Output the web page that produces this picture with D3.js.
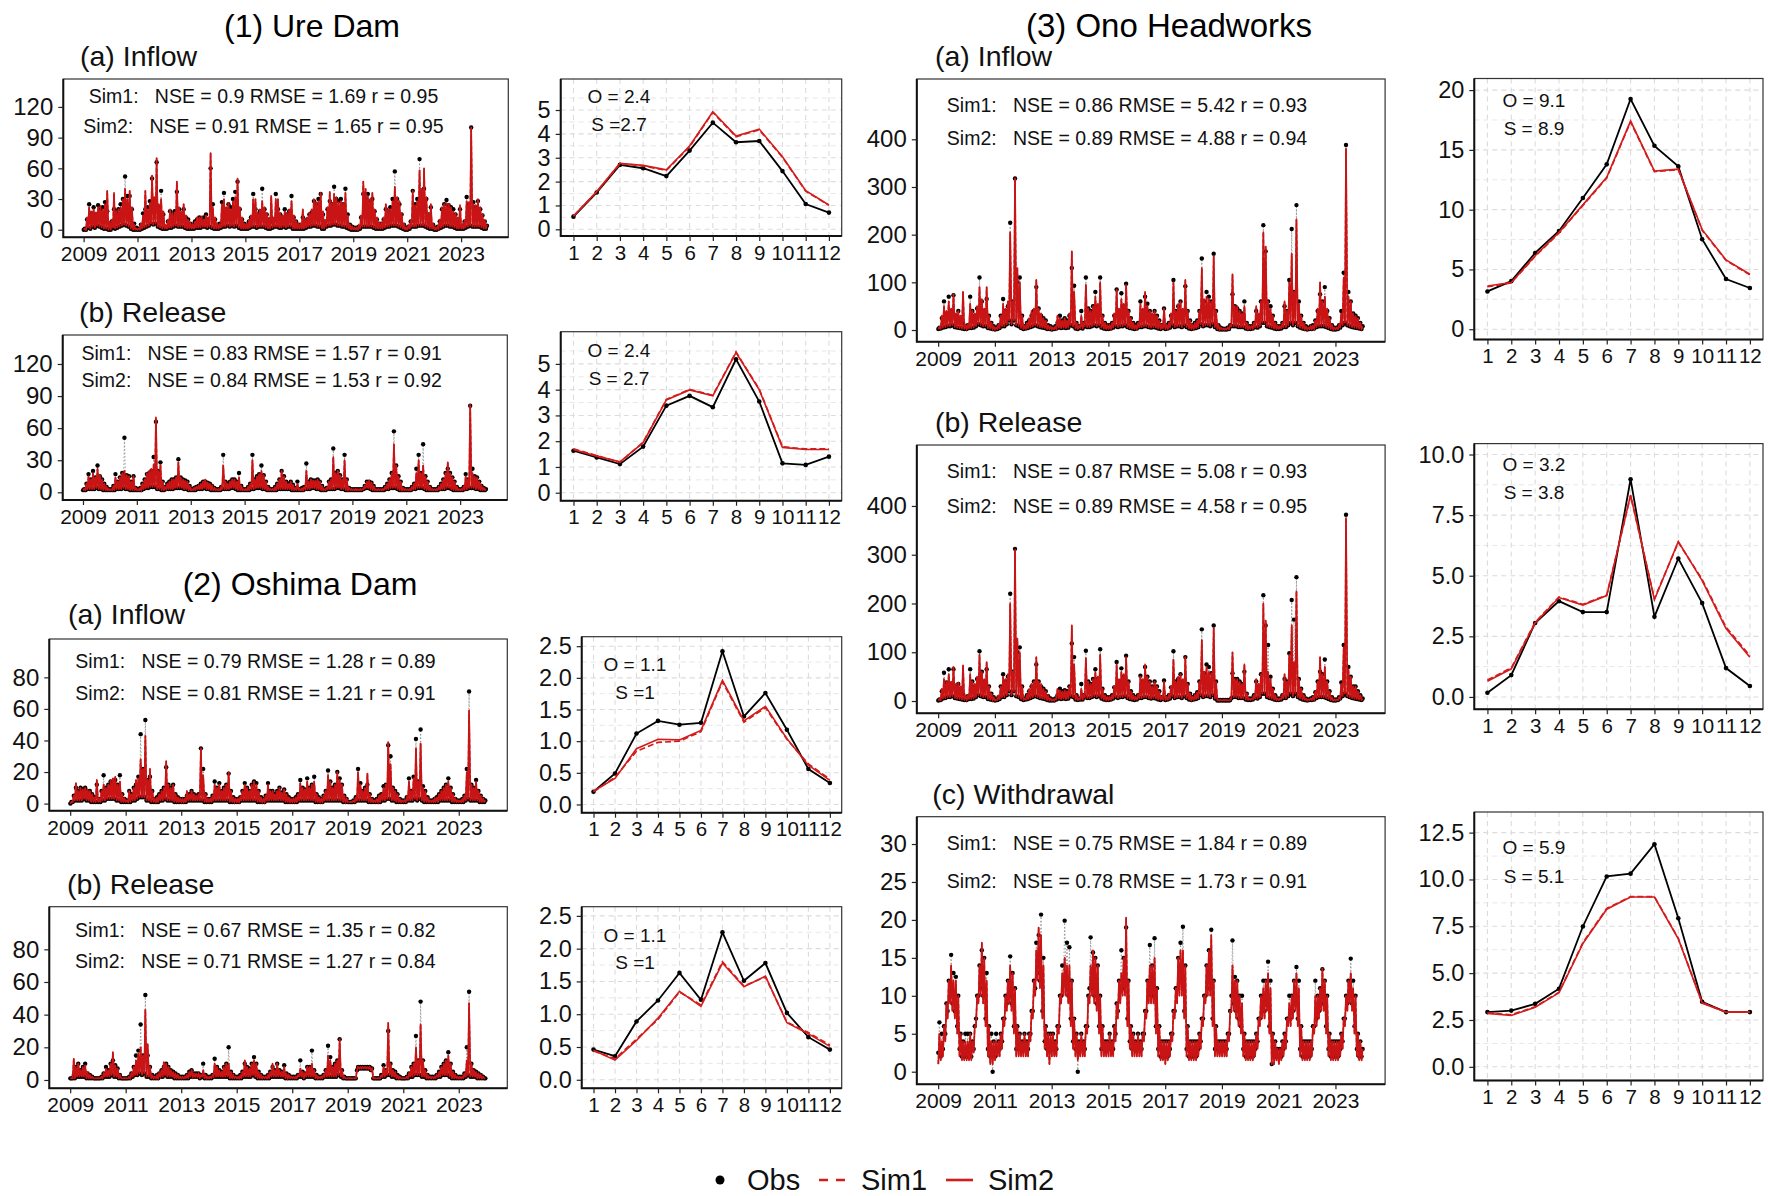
<!DOCTYPE html>
<html>
<head>
<meta charset="utf-8">
<script src="https://cdn.jsdelivr.net/npm/d3@7"></script>
<style>
  body { margin: 0; background: #fff; }
  svg { display: block; font-family: "Liberation Sans", Arial, sans-serif; }
</style>
</head>
<body>
<svg id="chart" width="1768" height="1196"></svg>
<script>
// ---- categories / ticks ----
const months = [1, 2, 3, 4, 5, 6, 7, 8, 9, 10, 11, 12];
const yearTicks = [2009, 2011, 2013, 2015, 2017, 2019, 2021, 2023];

// ---- daily series, summarised month by month (Jan 2009 .. Dec 2023) ----
// each month: low of the month, peak of the month
const ureInLow = [
  0,0,2,1,3,2,4,3,2,1,1,0,  0,2,1,2,3,4,5,4,3,1,0,0,  0,0,1,2,3,4,6,5,6,3,2,1,
  1,1,2,2,3,4,3,3,3,2,1,1,  1,1,2,2,2,3,3,2,3,2,1,1,  1,2,3,3,4,3,4,3,4,2,1,1,
  1,1,2,3,3,2,3,3,3,2,1,1,  2,3,3,2,2,3,2,3,3,1,1,1,  1,1,1,2,3,3,4,4,3,3,1,1,
  3,4,4,5,5,4,4,3,3,2,1,0,  0,0,0,1,3,3,3,3,3,2,1,1,  1,1,2,3,3,4,4,4,3,2,1,0,
  0,1,3,3,3,4,4,4,3,2,1,1,  0,0,1,2,3,4,4,3,3,2,1,1,  1,1,2,3,4,3,3,3,3,2,1,1];
const ureInObs = [
  1,10,25,16,22,15,24,20,22,27,18,6,   8,20,17,20,25,30,52,33,33,20,6,2,
  1,5,16,20,22,28,50,30,66,22,38,15,   3,8,18,15,18,37,20,15,20,12,10,6,
  5,8,10,12,10,12,15,10,60,25,10,5,    6,27,36,20,25,22,30,37,47,20,10,6,
  5,8,12,35,20,15,18,40,20,15,10,8,    10,35,20,15,12,20,15,18,33,12,8,5,
  5,12,8,10,15,17,28,25,30,35,15,8,    20,28,25,42,30,28,30,25,40,15,5,3,
  2,2,3,12,35,30,35,28,30,18,10,6,     6,10,20,18,22,30,57,30,25,15,5,2,
  3,8,38,25,30,69,35,40,30,15,22,5,    2,3,8,20,25,29,24,22,20,15,10,20,
  4,8,32,25,100,27,22,28,20,14,8,4];
const ureInSim2 = [
  1,12,22,18,20,17,22,23,20,25,38,8,   10,36,18,20,22,30,40,30,38,22,5,1,
  1,6,14,38,20,26,53,32,70,25,30,18,   4,10,20,16,17,47,22,18,25,14,10,7,
  5,8,12,12,13,10,14,12,75,22,12,6,    5,25,30,22,26,20,28,32,50,22,12,6,
  6,9,14,30,30,16,20,28,22,16,11,33,   12,30,30,16,14,18,16,20,28,14,9,6,
  6,20,10,12,16,20,30,27,28,36,18,9,   22,37,26,35,32,27,28,26,36,14,5,3,
  2,2,4,14,47,40,33,30,36,20,12,7,     7,12,25,20,20,28,42,32,28,16,6,2,
  4,9,38,24,28,58,40,60,32,16,25,6,    2,3,10,22,25,26,25,22,18,16,12,24,
  5,9,28,27,100,25,24,30,22,15,9,5];
// Sim1 lies on top of Sim2 at this scale
const ureInSim1 = ureInSim2;

const ureRelLow = [
  2,2,3,3,3,3,4,3,3,2,2,2,  2,2,2,3,3,3,4,3,3,2,2,2,  2,2,2,3,4,4,5,5,5,3,3,2,
  2,3,3,3,3,4,4,4,4,3,3,2,  2,2,2,3,3,3,4,3,3,2,2,2,  2,2,3,3,3,3,4,4,3,2,2,2,
  2,2,2,3,3,4,4,4,3,3,2,2,  2,2,2,3,3,3,3,3,3,2,2,2,  2,2,2,3,3,3,4,4,3,3,2,2,
  2,3,3,3,3,4,4,3,3,2,2,2,  2,2,2,2,2,3,4,4,3,2,2,2,  2,2,2,3,3,4,4,4,3,2,2,2,
  2,2,2,3,3,4,4,4,3,2,2,2,  2,2,2,3,3,3,4,4,3,2,2,2,  2,2,3,3,4,4,4,3,3,2,2,2];
const ureRelObs = [
  3,8,17,12,20,14,25,15,12,8,5,3,      3,6,17,10,14,18,51,16,15,10,15,4,
  3,4,8,12,17,18,20,33,66,20,28,10,    5,8,10,12,12,14,31,14,12,11,10,6,
  3,4,5,6,8,10,10,9,8,6,4,3,           3,5,35,10,8,10,12,12,10,18,6,3,
  3,5,8,35,12,15,17,25,16,10,5,3,      3,5,8,12,20,15,10,8,10,7,4,10,
  3,4,5,27,10,12,11,11,12,10,6,3,      4,10,12,41,18,20,16,12,35,12,4,3,
  3,3,3,3,3,6,10,10,9,6,3,3,           3,3,5,8,12,18,57,25,15,10,4,3,
  3,3,5,8,22,35,18,45,15,10,5,3,       3,3,5,8,12,18,22,18,14,10,5,3,
  3,5,17,12,81,22,15,14,10,6,4,3];
const ureRelSim2 = [
  3,8,15,12,18,14,22,16,12,8,5,3,      3,6,14,10,14,18,20,16,15,10,15,4,
  3,4,8,12,18,20,22,26,70,20,26,10,    5,8,10,12,12,14,28,14,12,11,10,6,
  3,4,5,6,8,10,12,9,8,6,4,3,           3,5,25,10,8,10,12,12,10,14,6,3,
  3,5,8,30,12,15,17,20,16,10,5,3,      3,5,8,12,20,15,10,8,10,7,4,8,
  3,4,5,20,10,12,11,11,12,10,6,3,      4,10,12,33,18,20,16,12,30,12,4,3,
  3,3,3,3,3,6,10,11,9,6,3,3,           3,3,5,8,12,18,45,25,15,10,4,3,
  3,3,5,8,18,30,18,25,15,10,5,3,       3,3,5,8,12,18,28,18,14,10,5,3,
  3,5,15,12,82,18,15,14,10,6,4,3];
const ureRelSim1 = ureRelSim2;

const oshInLow = [
  0,1,2,2,2,2,3,2,2,1,1,1,  1,1,2,2,3,3,3,3,2,2,1,1,  1,1,1,2,2,3,4,4,4,2,2,1,
  1,1,1,2,2,3,2,2,2,1,1,1,  1,1,1,2,2,2,2,2,2,2,1,1,  1,1,2,2,2,2,2,2,2,1,1,1,
  1,1,2,2,2,2,2,2,2,1,1,1,  1,2,2,2,2,2,2,2,2,1,1,1,  1,1,1,2,2,2,2,2,2,2,1,1,
  1,1,2,2,2,2,2,2,2,2,1,1,  1,1,1,1,2,2,2,2,2,1,1,1,  1,1,1,2,2,3,3,2,2,1,1,1,
  1,1,2,2,2,3,2,3,2,1,1,1,  1,1,1,1,2,2,2,2,2,1,1,1,  1,1,1,2,3,2,2,2,2,1,1,1];
const oshInObs = [
  1,5,10,8,10,9,10,8,8,6,4,12,         3,8,18,10,12,14,12,15,12,18,6,3,
  2,8,6,10,12,17,44,22,53,15,17,8,     3,4,6,8,10,23,12,10,12,6,4,3,
  3,3,5,6,8,6,5,6,35,22,6,3,           3,5,14,10,13,8,10,12,19,8,4,3,
  3,4,8,13,10,8,12,14,13,8,4,3,        5,13,8,8,6,8,10,7,9,6,4,3,
  3,4,6,15,10,9,16,10,12,17,6,4,       3,5,8,21,14,10,12,20,16,12,5,3,
  1,1,2,4,22,13,8,10,12,6,3,2,         3,5,6,11,12,37,30,10,8,6,3,2,
  2,4,16,8,17,41,14,47,11,8,4,2,       2,3,4,6,8,10,12,16,10,6,3,2,
  2,3,5,22,71,12,10,15,8,5,3,2];
const oshInSim2 = [
  1,5,13,8,10,9,10,9,8,6,4,15,         3,8,12,10,12,15,16,17,12,14,6,3,
  2,8,6,10,15,16,28,22,43,15,22,8,     3,4,6,8,10,27,12,10,12,6,4,3,
  3,3,8,6,8,6,5,6,35,18,6,3,           3,5,12,10,12,8,10,12,20,8,4,3,
  3,4,8,12,10,8,12,14,12,8,4,3,        5,12,8,8,6,8,10,7,9,6,4,3,
  3,4,6,13,10,9,14,10,12,14,6,4,       3,5,8,18,14,10,12,20,15,12,5,3,
  1,1,2,4,20,12,8,10,19,6,3,2,         3,5,6,10,12,39,25,10,8,6,3,2,
  2,4,14,8,16,35,14,38,10,8,4,2,       2,3,4,6,8,10,12,14,10,6,3,2,
  2,3,5,20,59,12,10,14,8,5,3,2];
const oshInSim1 = oshInSim2;

const oshRelLow = [
  1,1,1,2,2,2,2,1,1,1,1,1,  1,1,1,2,2,2,3,2,2,1,1,1,  1,1,1,2,3,3,4,3,4,2,2,1,
  1,1,1,2,2,3,2,2,2,1,1,1,  1,1,1,1,2,2,2,2,1,2,1,1,  1,1,2,2,2,2,2,2,2,1,1,1,
  1,1,1,2,2,2,2,3,2,1,1,1,  1,1,1,2,2,2,2,2,2,1,1,1,  1,1,1,2,2,1,2,2,2,2,1,1,
  1,1,2,2,2,2,2,2,3,2,1,1,  1,1,1,1,6,7,7,7,7,7,6,1,  1,1,1,2,2,3,3,2,2,1,1,1,
  1,1,1,2,2,3,3,3,2,2,1,1,  1,1,1,2,2,3,3,3,2,1,1,1,  1,1,1,2,3,2,2,2,1,1,1,1];
const oshRelObs = [
  1,3,8,10,6,8,10,4,3,2,1,1,           1,2,4,8,6,10,12,9,7,3,1,1,
  1,2,4,8,15,18,34,15,52,15,8,3,       2,3,4,6,8,10,8,6,5,4,3,2,
  2,2,3,5,6,4,4,4,3,10,3,2,            2,3,13,8,6,5,8,10,20,5,3,2,
  2,3,5,10,8,7,10,14,10,5,3,2,         2,3,5,8,6,10,6,5,9,4,3,2,
  2,2,3,12,5,4,8,8,18,6,3,2,           2,3,6,21,14,8,10,12,25,6,2,1,
  1,1,1,1,8,8,8,8,8,8,7,1,             1,1,3,9,6,30,10,6,5,3,2,1,
  1,2,4,8,10,27,12,48,12,6,3,2,        2,2,3,5,8,10,12,17,10,5,3,2,
  2,2,4,20,54,10,6,5,4,3,2,1];
const oshRelSim2 = [
  1,13,8,10,6,8,9,5,3,2,1,1,           1,2,4,7,6,10,17,9,7,3,1,1,
  1,2,4,8,12,16,20,15,43,22,8,3,       2,3,4,6,11,10,8,6,5,4,3,2,
  2,2,3,5,6,4,4,4,3,6,3,2,             2,3,10,8,6,5,8,10,10,5,3,2,
  2,3,5,12,8,7,10,12,10,5,3,2,         2,3,5,10,6,10,6,5,8,4,3,2,
  2,2,3,7,5,4,8,8,10,6,3,2,            2,3,6,15,12,8,10,12,25,6,2,1,
  1,1,1,1,8,8,8,8,8,8,7,1,             1,1,3,8,6,35,10,6,5,3,2,1,
  1,2,4,8,10,20,12,34,12,6,3,2,        2,2,3,5,8,10,12,15,10,5,3,2,
  2,2,4,12,47,10,6,5,4,3,2,1];
const oshRelSim1 = oshRelSim2;

const onoInLow = [
  2,3,5,6,8,8,10,6,5,4,3,2,    2,4,4,5,8,12,10,8,8,4,3,2,   1,2,4,8,8,12,20,12,20,10,8,4,
  2,3,4,6,8,10,8,6,5,4,2,2,    1,2,3,5,4,5,4,5,10,8,3,2,    4,3,8,6,6,8,10,8,10,5,3,2,
  2,3,5,8,6,8,8,10,6,4,3,2,    3,6,6,8,8,6,5,6,5,3,2,4,     2,3,5,10,6,8,8,6,10,6,3,2,
  3,4,6,12,8,10,10,8,12,6,2,1, 1,1,1,2,8,8,8,6,6,6,3,2,     2,3,6,5,8,15,15,8,6,5,3,2,
  2,3,6,6,10,15,10,15,8,5,3,2, 1,2,2,3,6,8,8,8,6,4,2,1,     1,2,5,10,15,10,8,6,5,4,3,2];
const onoInObs = [
  5,25,60,35,70,40,73,30,40,25,15,8,       10,70,40,30,45,110,60,40,65,30,15,8,
  5,10,30,65,40,50,225,60,318,100,110,30,  8,15,20,30,40,90,45,30,25,20,10,8,
  5,8,15,30,20,25,20,30,130,93,15,8,       40,15,110,45,40,50,80,50,110,30,15,10,
  10,15,30,85,40,77,50,97,40,25,15,10,     15,60,40,70,55,40,30,40,30,20,10,45,
  10,15,30,105,40,50,60,40,92,40,20,10,    15,20,40,150,60,80,70,60,160,40,10,5,
  3,3,5,10,75,50,45,40,35,60,15,8,         8,15,40,30,60,220,165,60,50,30,15,8,
  8,15,50,40,105,212,80,262,60,30,15,8,    5,8,10,20,40,75,60,90,40,25,10,5,
  5,10,40,120,388,80,60,35,30,25,15,8];
const onoInSim2 = [
  6,30,50,40,60,45,75,35,40,30,80,10,      12,55,40,35,50,90,65,45,90,30,15,8,
  5,12,30,55,45,60,205,60,318,130,100,30,  8,15,25,40,45,105,45,35,25,20,10,8,
  5,8,30,25,20,25,20,35,165,80,15,8,       30,15,95,45,40,50,70,55,100,30,15,10,
  10,15,35,85,45,65,55,95,40,25,15,10,     15,55,45,80,50,40,35,40,30,20,10,45,
  10,15,35,100,40,55,60,45,105,40,20,10,   15,20,40,130,65,70,65,60,155,40,10,5,
  3,3,5,10,117,50,50,40,35,50,15,8,        8,15,50,35,60,205,175,60,45,30,15,8,
  8,15,60,40,100,160,80,232,55,30,15,8,    5,8,10,20,45,100,60,70,45,25,10,5,
  5,10,35,110,380,70,60,35,30,25,15,8];
const onoInSim1 = onoInSim2;

const onoRelLow = [
  1,2,5,6,8,8,10,6,5,4,3,2,    2,4,4,5,8,12,10,8,8,4,3,2,   1,2,4,8,8,12,20,12,20,10,8,4,
  2,3,4,6,8,10,8,6,5,4,2,1,    1,1,3,5,4,5,4,5,10,8,3,2,    3,3,8,6,6,8,10,8,10,5,3,2,
  2,3,5,8,6,8,8,10,6,4,3,2,    3,6,6,8,8,6,5,6,5,3,2,4,     2,3,5,10,6,8,8,6,10,6,3,2,
  3,4,6,12,8,10,10,8,12,5,1,1, 1,1,1,1,6,8,8,6,6,6,3,2,     2,3,6,5,8,15,15,8,6,5,3,2,
  2,3,6,6,10,15,10,15,8,5,3,2, 1,2,2,3,6,8,8,8,6,4,2,1,     1,2,5,10,15,10,8,6,5,4,3,2];
const onoRelObs = [
  3,20,58,38,65,35,65,30,35,25,15,8,       10,65,40,30,45,102,60,40,65,30,15,8,
  3,8,30,55,40,50,220,60,312,100,110,30,   5,12,20,30,40,75,40,30,25,20,10,5,
  3,5,12,25,20,22,20,30,118,90,12,5,       35,12,103,40,35,45,65,45,106,25,12,8,
  8,12,28,80,40,67,50,93,40,20,12,8,       12,52,40,70,50,40,30,40,30,20,8,42,
  8,12,28,102,40,45,55,40,90,35,15,8,      12,18,40,147,57,75,70,57,155,40,2,2,
  2,2,2,2,57,45,45,40,35,60,15,5,          5,12,40,30,55,217,155,115,50,25,12,5,
  5,12,45,40,98,207,167,254,45,25,12,5,    3,5,8,18,40,60,55,85,40,20,8,3,
  3,8,38,115,382,70,50,30,30,20,12,5];
const onoRelSim2 = [
  4,25,45,40,55,40,70,35,38,30,73,10,      12,55,40,35,50,95,60,45,80,30,15,8,
  3,10,30,50,45,55,200,60,310,128,100,30,  5,12,25,35,40,90,40,35,25,20,10,5,
  3,5,25,22,20,22,20,30,155,75,12,5,       25,12,88,40,35,45,60,50,95,25,12,8,
  8,12,30,75,45,60,55,90,40,20,12,8,       12,50,45,75,50,40,30,40,30,20,8,40,
  8,12,30,85,40,50,55,45,90,35,15,8,       12,18,40,125,60,70,60,57,150,40,2,2,
  2,2,2,2,100,45,45,40,35,75,15,5,         5,12,45,35,55,200,165,60,45,25,12,5,
  5,12,55,40,95,155,80,225,45,25,12,5,     3,5,8,20,40,90,55,70,40,20,8,3,
  3,8,35,110,375,65,50,30,30,20,12,5];
const onoRelSim1 = onoRelSim2;

const onoWdObsLow = [
  2.5,2,3,5,8,10,9,8,6,3,2,2,   2,2,2,3,7,10,11,10,7,3,2,0,   2,3,3,4,7,9,10,9,6,3,3,3,
  3,3,3,5,8,11,13,12,8,4,3,3,   3,3,3,6,10,12,12,10,7,4,3,0,  3,3,3,6,11,11,10,9,6,3,3,3,
  3,3,3,5,8,11,11,12,7,4,3,3,   3,3,3,5,8,11,10,10,6,3,2,2,   2,2,3,5,8,11,12,12,8,3,2,2,
  2,2,3,4,7,10,11,12,7,3,3,3,   3,3,3,5,10,9,8,7,6,3,2,2,     2,2,3,4,7,8,8,9,6,1,2,2,
  2,2,3,4,7,7,8,9,7,3,2,2,      2,2,3,6,7,8,9,9,6,3,2,2,      2,2,3,4,7,9,10,9,6,3,2,2];
const onoWdObs = [
  6.5,5,6,9,12,15.4,13,12.5,10,5,4,5,  5,5,4,6,10,14,16,15,13,6,5,4,
  5,4,5,7,10,12,15.2,13,11,6,5,4,      5,4,5,8,12,17,18,20.7,15,6,5,5,
  5,4,6,10,14,19.9,17,16.4,12,7,5,4,   5,4,6,10,17.7,15.7,15,14,10,6,4,4,
  5,4,6,9,12,16,15,19,12,6,5,4,        5,4,5,8,12,16.7,14,17.6,11,6,4,4,
  4,4,5,8,11,15,17,19.1,14,6,4,4,      4,4,5,7,10,14,16,18.7,12,6,4,4,
  4,4,5,8,17.3,12.5,12,10,10,5,4,4,    4,4,5,7,10,12,12,14.5,12,5,4,3,
  3,4,5,7,10,10,12,13.8,12,6,4,4,      4,4,6,12,10,11,13.5,12,10,5,4,4,
  4,4,5,7,10,12,14.9,12,10,5,4,3];
const onoWdSimLow = [
  1,1.5,2,4,7,9,8,7,5,2,1.5,1.5,   1.5,1.5,1.5,2.5,6,9,10,9,6,2,1,1,  1.5,2,2,3,6,8,9,8,5,2,2,2,
  2,2,2,4,7,10,12,11,7,3,2,1,      2,2,2,5,9,10,10,9,6,3,2,1.5,       2,2,2,5,9,10,9,8,5,2,2,2,
  2,2,2,4,7,9,10,10,6,3,2,2,       2,2,2,4,7,9,9,9,5,2,1.5,1.5,       1,1.5,2,4,7,9,10,10,7,2,1.5,1.5,
  1.5,1.5,2,3,6,9,10,10,6,2,2,2,   2,2,2,4,8,8,7,6,5,2,1.5,1.5,       1.5,1.5,2,3,6,7,7,8,5,1,1,1.5,
  1,1.5,2,3,6,6,7,8,6,2,1.5,1.5,   1.5,1.5,2,5,6,7,8,8,5,2,1.5,1.5,   1.5,1.5,2,3,6,8,9,8,5,2,1.5,1.5];
const onoWdSim2 = [
  5,4,6,9,12,14,12,12,10,5,4,4,        4,5,4,6,10,14,17,15,12,6,4,4,
  4,4,5,7,10,12,14,13,11,6,5,4,        5,4,5,8,12,16,19,18,14,6,5,5,
  5,4,6,10,13,15,14,14,12,7,5,4,       5,4,6,10,14,16,15,14,10,6,4,4,
  5,4,6,9,12,13,15,20.3,12,6,5,4,      5,4,5,8,12,14,14,15,11,6,4,4,
  4,4,5,8,11,15,16,16,14,6,4,4,        4,4,5,7,10,14,16,18,12,6,4,4,
  4,4,5,8,14,12,12,10,9,5,4,4,         4,4,5,7,10,11,12,13,11,5,4,3,
  3,4,5,7,9,10,12,13,11,6,4,4,         4,4,6,10,10,11,13.6,12,10,5,4,4,
  4,4,5,7,10,12,13,11,10,5,4,3];
const onoWdSim1 = onoWdSim2;

// ---- monthly means (month 1..12) ----
const ureInMonObs  = [0.53, 1.54, 2.70, 2.56, 2.23, 3.30, 4.47, 3.65, 3.70, 2.44, 1.06, 0.70];
const ureInMonSim1 = [0.55, 1.57, 2.75, 2.66, 2.47, 3.46, 4.90, 3.88, 4.17, 3.02, 1.60, 1.01];
const ureInMonSim2 = [0.56, 1.58, 2.77, 2.68, 2.49, 3.49, 4.93, 3.91, 4.20, 3.04, 1.62, 1.02];
const ureRelMonObs  = [1.63, 1.37, 1.11, 1.79, 3.38, 3.76, 3.32, 5.18, 3.54, 1.14, 1.08, 1.40];
const ureRelMonSim1 = [1.70, 1.44, 1.18, 1.96, 3.62, 4.01, 3.78, 5.46, 4.02, 1.78, 1.70, 1.70];
const ureRelMonSim2 = [1.68, 1.42, 1.20, 1.94, 3.60, 3.99, 3.76, 5.44, 3.99, 1.76, 1.68, 1.68];
const oshInMonObs  = [0.20, 0.49, 1.12, 1.32, 1.26, 1.29, 2.42, 1.39, 1.76, 1.18, 0.56, 0.34];
const oshInMonSim1 = [0.20, 0.43, 0.84, 0.98, 1.00, 1.15, 1.94, 1.30, 1.53, 1.03, 0.64, 0.40];
const oshInMonSim2 = [0.21, 0.41, 0.88, 1.03, 1.02, 1.17, 1.96, 1.32, 1.55, 1.04, 0.62, 0.38];
const oshRelMonObs  = [0.46, 0.36, 0.89, 1.21, 1.63, 1.22, 2.25, 1.51, 1.78, 1.02, 0.65, 0.46];
const oshRelMonSim1 = [0.44, 0.32, 0.62, 0.92, 1.34, 1.14, 1.80, 1.43, 1.57, 0.88, 0.72, 0.53];
const oshRelMonSim2 = [0.45, 0.30, 0.60, 0.94, 1.35, 1.12, 1.78, 1.42, 1.58, 0.87, 0.70, 0.51];
const onoInMonObs  = [3.16, 4.02, 6.38, 8.22, 10.98, 13.79, 19.25, 15.34, 13.62, 7.53, 4.20, 3.45];
const onoInMonSim1 = [3.55, 3.88, 6.10, 8.05, 10.35, 12.65, 17.35, 13.18, 13.35, 8.28, 5.75, 4.55];
const onoInMonSim2 = [3.62, 3.91, 6.15, 8.10, 10.40, 12.70, 17.41, 13.22, 13.39, 8.33, 5.80, 4.60];
const onoRelMonObs  = [0.17, 0.90, 3.05, 3.95, 3.50, 3.50, 8.98, 3.31, 5.71, 3.87, 1.19, 0.45];
const onoRelMonSim1 = [0.70, 1.20, 3.08, 4.12, 3.82, 4.20, 8.30, 4.05, 6.38, 4.85, 2.88, 1.70];
const onoRelMonSim2 = [0.65, 1.16, 3.05, 4.10, 3.79, 4.18, 8.33, 4.01, 6.41, 4.80, 2.82, 1.64];
const onoWdMonObs  = [2.92, 3.00, 3.36, 4.17, 7.49, 10.16, 10.31, 11.88, 7.93, 3.47, 2.92, 2.92];
const onoWdMonSim1 = [2.88, 2.78, 3.20, 3.98, 6.62, 8.45, 9.08, 9.08, 6.86, 3.42, 2.92, 2.92];
const onoWdMonSim2 = [2.85, 2.74, 3.18, 3.95, 6.58, 8.41, 9.06, 9.06, 6.83, 3.40, 2.92, 2.92];

// ---- drawing ----
const RED = "#d41c1c";
const TSRED = "#c81414";
const svg = d3.select("#chart");
svg.append("rect").attr("width", 1768).attr("height", 1196).attr("fill", "#fff");

// month i of the record -> a date early / mid month
function monthDate(i, day) { return new Date(2009 + Math.floor(i / 12), i % 12, day); }
function seq(lo, hi) {
  const out = [];
  hi.forEach((v, i) => { out.push([monthDate(i, 3), lo[i]]); out.push([monthDate(i, 17), v]); });
  return out;
}

function styleAxis(ax, fs) {
  ax.attr("font-size", null).attr("font-family", null);
  ax.select(".domain").remove();
  ax.selectAll(".tick line").attr("stroke", "#222").attr("stroke-width", 1.2);
  ax.selectAll("text").attr("font-size", fs).attr("fill", "#111");
}

function frame(g, p) {
  g.append("rect").attr("x", p.x0).attr("y", p.y0).attr("width", p.x1 - p.x0).attr("height", p.y1 - p.y0)
    .attr("fill", "none").attr("stroke", "#333").attr("stroke-width", 1.2);
  g.append("path").attr("d", `M${p.x0},${p.y0}V${p.y1}H${p.x1}`)
    .attr("fill", "none").attr("stroke", "#111").attr("stroke-width", 2);
}

function tsPanel(p) {
  const x = d3.scaleTime().domain([new Date(2008, 3, 1), new Date(2024, 9, 1)]).range([p.x0, p.x1]);
  const y = d3.scaleLinear().domain(p.ydom).range([p.y1, p.y0]);
  const g = svg.append("g");
  const line = d3.line().x(d => x(d[0])).y(d => y(d[1]));
  const obs = seq(p.obsLow, p.obs);

  g.append("path").attr("d", line(obs)).attr("fill", "none")
    .attr("stroke", "#999").attr("stroke-width", 1).attr("stroke-dasharray", "1.5,2");
  g.append("g").selectAll("circle").data(obs).join("circle")
    .attr("cx", d => x(d[0])).attr("cy", d => y(d[1])).attr("r", 2.2).attr("fill", "#000");
  g.append("path").attr("d", line(seq(p.simLow, p.sim1))).attr("fill", "none")
    .attr("stroke", TSRED).attr("stroke-width", 1.5).attr("stroke-dasharray", "4,2");
  g.append("path").attr("d", line(seq(p.simLow, p.sim2))).attr("fill", "none")
    .attr("stroke", TSRED).attr("stroke-width", 1.7).attr("stroke-linejoin", "round");

  frame(g, p);
  const ay = g.append("g").attr("transform", `translate(${p.x0},0)`)
    .call(d3.axisLeft(y).tickValues(p.yticks).tickSize(5).tickPadding(5));
  styleAxis(ay, 24);
  const ax = g.append("g").attr("transform", `translate(0,${p.y1})`)
    .call(d3.axisBottom(x).tickValues(yearTicks.map(yr => new Date(yr, 0, 1)))
      .tickFormat(d3.timeFormat("%Y")).tickSize(5).tickPadding(4));
  styleAxis(ax, 21);

  p.stats.forEach((s, k) => {
    g.append("text").attr("xml:space", "preserve").attr("x", p.cx).attr("y", p.sy[k])
      .attr("text-anchor", "middle").attr("font-size", 19.5).attr("fill", "#111").text(s);
  });
  g.append("text").attr("x", p.tx).attr("y", p.ty).attr("font-size", 28.5).attr("fill", "#111").text(p.title);
}

function monthPanel(p) {
  const x = d3.scaleLinear().domain([0.45, 12.55]).range([p.x0, p.x1]);
  const y = d3.scaleLinear().domain(p.ydom).range([p.y1, p.y0]);
  const g = svg.append("g");
  const step = p.yticks[1] - p.yticks[0];
  const minor = p.yticks.map(t => t + step / 2).filter(t => y(t) > p.y0);
  const grid = g.append("g").attr("stroke", "#dcdcdc").attr("stroke-dasharray", "5,4").attr("fill", "none");
  minor.forEach(t => grid.append("line").attr("x1", p.x0).attr("x2", p.x1).attr("y1", y(t)).attr("y2", y(t)).attr("stroke-width", 0.7));
  p.yticks.forEach(t => grid.append("line").attr("x1", p.x0).attr("x2", p.x1).attr("y1", y(t)).attr("y2", y(t)).attr("stroke-width", 1.1));
  months.forEach(m => grid.append("line").attr("x1", x(m)).attr("x2", x(m)).attr("y1", p.y0).attr("y2", p.y1).attr("stroke-width", 1.1));

  const line = d3.line().x((d, i) => x(months[i])).y(d => y(d));
  g.append("path").attr("d", line(p.obs)).attr("fill", "none").attr("stroke", "#000").attr("stroke-width", 1.8);
  g.append("g").selectAll("circle").data(p.obs).join("circle")
    .attr("cx", (d, i) => x(months[i])).attr("cy", d => y(d)).attr("r", 2.3).attr("fill", "#000");
  g.append("path").attr("d", line(p.sim1)).attr("fill", "none").attr("stroke", RED)
    .attr("stroke-width", 1.7).attr("stroke-dasharray", "6,3");
  g.append("path").attr("d", line(p.sim2)).attr("fill", "none").attr("stroke", RED).attr("stroke-width", 1.6);

  frame(g, p);
  const ay = g.append("g").attr("transform", `translate(${p.x0},0)`)
    .call(d3.axisLeft(y).tickValues(p.yticks).tickFormat(p.yfmt).tickSize(5).tickPadding(5));
  styleAxis(ay, 23.5);
  const ax = g.append("g").attr("transform", `translate(0,${p.y1})`)
    .call(d3.axisBottom(x).tickValues(months).tickFormat(d3.format("d")).tickSize(5).tickPadding(4));
  styleAxis(ax, 20.5);

  p.note.forEach((s, k) => {
    g.append("text").attr("xml:space", "preserve").attr("x", p.cx).attr("y", p.ny[k])
      .attr("text-anchor", "middle").attr("font-size", 19).attr("fill", "#111").text(s);
  });
}

// ---- (1) Ure Dam ----
svg.append("text").attr("x", 312).attr("y", 37).attr("text-anchor", "middle").attr("font-size", 32).text("(1) Ure Dam");
tsPanel({x0: 63.3, x1: 508.3, y0: 79, y1: 237.3, ydom: [-7.4, 147.3], yticks: [0, 30, 60, 90, 120],
  obs: ureInObs, obsLow: ureInLow, sim1: ureInSim1, sim2: ureInSim2, simLow: ureInLow,
  stats: ["Sim1:   NSE = 0.9 RMSE = 1.69 r = 0.95", "Sim2:   NSE = 0.91 RMSE = 1.65 r = 0.95"],
  cx: 263.5, sy: [102.7, 133.3], title: "(a) Inflow", tx: 80, ty: 66});
monthPanel({x0: 560.7, x1: 841.7, y0: 79, y1: 236, ydom: [-0.28, 6.3], yticks: [0, 1, 2, 3, 4, 5],
  yfmt: d3.format("d"), obs: ureInMonObs, sim1: ureInMonSim1, sim2: ureInMonSim2,
  note: ["O = 2.4", "S =2.7"], cx: 619, ny: [102.7, 131]});
tsPanel({x0: 62.7, x1: 507.3, y0: 335, y1: 500, ydom: [-7.2, 147.1], yticks: [0, 30, 60, 90, 120],
  obs: ureRelObs, obsLow: ureRelLow, sim1: ureRelSim1, sim2: ureRelSim2, simLow: ureRelLow,
  stats: ["Sim1:   NSE = 0.83 RMSE = 1.57 r = 0.91", "Sim2:   NSE = 0.84 RMSE = 1.53 r = 0.92"],
  cx: 261.7, sy: [360, 386.7], title: "(b) Release", tx: 79, ty: 322});
monthPanel({x0: 560.7, x1: 841.7, y0: 331.7, y1: 500.7, ydom: [-0.31, 6.25], yticks: [0, 1, 2, 3, 4, 5],
  yfmt: d3.format("d"), obs: ureRelMonObs, sim1: ureRelMonSim1, sim2: ureRelMonSim2,
  note: ["O = 2.4", "S = 2.7"], cx: 619, ny: [357, 385]});

// ---- (2) Oshima Dam ----
svg.append("text").attr("x", 300).attr("y", 595).attr("text-anchor", "middle").attr("font-size", 32).text("(2) Oshima Dam");
tsPanel({x0: 49.3, x1: 507.3, y0: 639, y1: 810.7, ydom: [-4.5, 104.3], yticks: [0, 20, 40, 60, 80],
  obs: oshInObs, obsLow: oshInLow, sim1: oshInSim1, sim2: oshInSim2, simLow: oshInLow,
  stats: ["Sim1:   NSE = 0.79 RMSE = 1.28 r = 0.89", "Sim2:   NSE = 0.81 RMSE = 1.21 r = 0.91"],
  cx: 255.5, sy: [668, 700], title: "(a) Inflow", tx: 68, ty: 624});
monthPanel({x0: 581.7, x1: 841.7, y0: 636.7, y1: 812.7, ydom: [-0.13, 2.65], yticks: [0, 0.5, 1, 1.5, 2, 2.5],
  yfmt: d3.format(".1f"), obs: oshInMonObs, sim1: oshInMonSim1, sim2: oshInMonSim2,
  note: ["O = 1.1", "S =1"], cx: 635, ny: [670.7, 699.3]});
tsPanel({x0: 49.3, x1: 507.3, y0: 906.7, y1: 1088.3, ydom: [-5.1, 106.1], yticks: [0, 20, 40, 60, 80],
  obs: oshRelObs, obsLow: oshRelLow, sim1: oshRelSim1, sim2: oshRelSim2, simLow: oshRelLow,
  stats: ["Sim1:   NSE = 0.67 RMSE = 1.35 r = 0.82", "Sim2:   NSE = 0.71 RMSE = 1.27 r = 0.84"],
  cx: 255.3, sy: [937.3, 968.3], title: "(b) Release", tx: 67, ty: 894});
monthPanel({x0: 581.7, x1: 841.7, y0: 906.7, y1: 1088.3, ydom: [-0.13, 2.64], yticks: [0, 0.5, 1, 1.5, 2, 2.5],
  yfmt: d3.format(".1f"), obs: oshRelMonObs, sim1: oshRelMonSim1, sim2: oshRelMonSim2,
  note: ["O = 1.1", "S =1"], cx: 635, ny: [941.7, 969.3]});

// ---- (3) Ono Headworks ----
svg.append("text").attr("x", 1169).attr("y", 37).attr("text-anchor", "middle").attr("font-size", 33).text("(3) Ono Headworks");
tsPanel({x0: 916.8, x1: 1385.1, y0: 79, y1: 341.7, ydom: [-24.5, 526.5], yticks: [0, 100, 200, 300, 400],
  obs: onoInObs, obsLow: onoInLow, sim1: onoInSim1, sim2: onoInSim2, simLow: onoInLow,
  stats: ["Sim1:   NSE = 0.86 RMSE = 5.42 r = 0.93", "Sim2:   NSE = 0.89 RMSE = 4.88 r = 0.94"],
  cx: 1127, sy: [111.7, 145], title: "(a) Inflow", tx: 935, ty: 66});
monthPanel({x0: 1474.3, x1: 1763, y0: 78.5, y1: 339.5, ydom: [-0.86, 20.97], yticks: [0, 5, 10, 15, 20],
  yfmt: d3.format("d"), obs: onoInMonObs, sim1: onoInMonSim1, sim2: onoInMonSim2,
  note: ["O = 9.1", "S = 8.9"], cx: 1534, ny: [107, 135]});
tsPanel({x0: 916.8, x1: 1385.1, y0: 445, y1: 713.3, ydom: [-25.2, 525], yticks: [0, 100, 200, 300, 400],
  obs: onoRelObs, obsLow: onoRelLow, sim1: onoRelSim1, sim2: onoRelSim2, simLow: onoRelLow,
  stats: ["Sim1:   NSE = 0.87 RMSE = 5.08 r = 0.93", "Sim2:   NSE = 0.89 RMSE = 4.58 r = 0.95"],
  cx: 1127, sy: [478.3, 512.7], title: "(b) Release", tx: 935, ty: 432});
monthPanel({x0: 1474.3, x1: 1763, y0: 443.6, y1: 709.3, ydom: [-0.51, 10.45], yticks: [0, 2.5, 5, 7.5, 10],
  yfmt: d3.format(".1f"), obs: onoRelMonObs, sim1: onoRelMonSim1, sim2: onoRelMonSim2,
  note: ["O = 3.2", "S = 3.8"], cx: 1534, ny: [471, 499]});
tsPanel({x0: 916.8, x1: 1385.1, y0: 816.7, y1: 1084.3, ydom: [-1.66, 33.6], yticks: [0, 5, 10, 15, 20, 25, 30],
  obs: onoWdObs, obsLow: onoWdObsLow, sim1: onoWdSim1, sim2: onoWdSim2, simLow: onoWdSimLow,
  stats: ["Sim1:   NSE = 0.75 RMSE = 1.84 r = 0.89", "Sim2:   NSE = 0.78 RMSE = 1.73 r = 0.91"],
  cx: 1127, sy: [850, 888.3], title: "(c) Withdrawal", tx: 932.3, ty: 804});
monthPanel({x0: 1474.3, x1: 1763, y0: 812, y1: 1080.5, ydom: [-0.73, 13.6], yticks: [0, 2.5, 5, 7.5, 10, 12.5],
  yfmt: d3.format(".1f"), obs: onoWdMonObs, sim1: onoWdMonSim1, sim2: onoWdMonSim2,
  note: ["O = 5.9", "S = 5.1"], cx: 1534, ny: [854, 883]});

// ---- legend ----
const lg = svg.append("g").attr("font-size", 29).attr("fill", "#111");
lg.append("circle").attr("cx", 720).attr("cy", 1180).attr("r", 4.5).attr("fill", "#000");
lg.append("text").attr("x", 747).attr("y", 1189.5).text("Obs");
lg.append("line").attr("x1", 819).attr("x2", 845).attr("y1", 1180).attr("y2", 1180)
  .attr("stroke", RED).attr("stroke-width", 2.6).attr("stroke-dasharray", "9,8");
lg.append("text").attr("x", 861).attr("y", 1189.5).text("Sim1");
lg.append("line").attr("x1", 946).attr("x2", 973).attr("y1", 1180).attr("y2", 1180)
  .attr("stroke", RED).attr("stroke-width", 2.6);
lg.append("text").attr("x", 988).attr("y", 1189.5).text("Sim2");
</script>
</body>
</html>
